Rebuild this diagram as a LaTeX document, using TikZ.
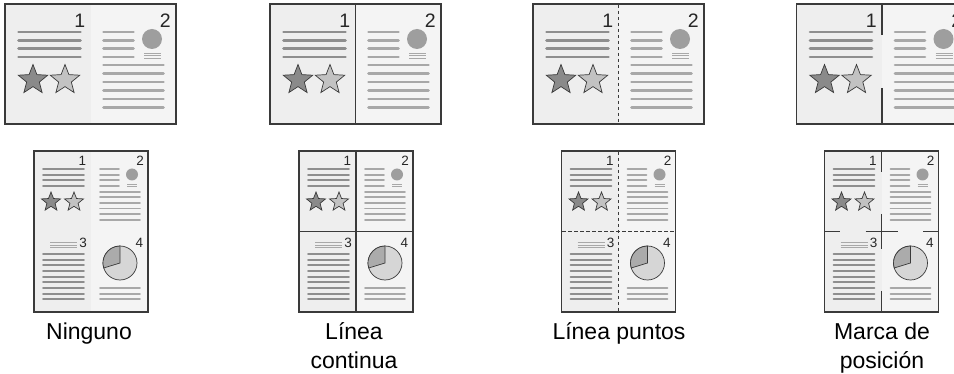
\documentclass[tikz,border=0pt]{standalone}
\usepackage{fontspec}
\setmainfont{Liberation Sans}
\definecolor{frame}{HTML}{3A3A3A}
\definecolor{pageL}{HTML}{EEEEEE}
\definecolor{pageR}{HTML}{F4F4F4}
\definecolor{lineL}{HTML}{8E8E8E}
\definecolor{lineR}{HTML}{A8A8A8}
\definecolor{dotc}{HTML}{9E9E9E}
\definecolor{starD}{HTML}{8A8A8A}
\definecolor{starL}{HTML}{C2C2C2}
\definecolor{pieL}{HTML}{D6D6D6}
\definecolor{pieD}{HTML}{ABABAB}
\tikzset{
  tlL/.style={draw=lineL, line width=2.6pt, line cap=round},
  tlR/.style={draw=lineR, line width=2.6pt, line cap=round},
  blL/.style={draw=lineL, line width=1.8pt, line cap=round},
  blR/.style={draw=lineR, line width=1.8pt, line cap=round},
  thinl/.style={draw=lineR, line width=0.7pt},
  frameline/.style={draw=frame, line width=1.6pt},
  divsolid/.style={draw=frame, line width=1.2pt},
  divdash/.style={draw=frame, line width=0.8pt, dash pattern=on 3.5pt off 2.5pt},
  digitT/.style={inner sep=0pt, anchor=base east, font=\fontsize{19.5}{22}\selectfont, text=black!85},
  digitB/.style={inner sep=0pt, anchor=base east, font=\fontsize{13.5}{15}\selectfont, text=black!85},
  lab/.style={inner sep=0pt, anchor=base, font=\fontsize{23}{28}\selectfont, text=black},
}
\newcommand\mystarshape[4]{%
  \begin{scope}[shift={(#1,#2)}, scale=#3]
    \filldraw[fill=#4, draw=frame, line width=0.7pt, line join=miter]
      (90:1pt) -- (126:0.43pt) -- (162:1pt) -- (198:0.43pt) -- (234:1pt)
      -- (270:0.43pt) -- (306:1pt) -- (342:0.43pt) -- (18:1pt) -- (54:0.43pt) -- cycle;
  \end{scope}}
\newcommand\topspread[2]{%
  \begin{scope}[shift={(#1,0)}]
    \fill[pageL] (-85.5,4) rectangle (0,124);
    \fill[pageR] (0,4) rectangle (85.5,124);
    \foreach \yy in {32,40.5,48.5,57} {\draw[tlL] (-72,\yy) -- (-10,\yy);}
    \mystarshape{-57.5}{80}{15.5}{starD}
    \mystarshape{-25.5}{80}{15.5}{starL}
    \foreach \yy in {32,40.5,48.5,57} {\draw[tlR] (13,\yy) -- (43,\yy);}
    \fill[dotc] (61.5,39) circle[radius=10pt];
    \foreach \yy in {53.3,55.8,58.3} {\draw[thinl] (53.5,\yy) -- (70.5,\yy);}
    \foreach \yy in {65,73.5,82,90.5,99,107.5} {\draw[tlR] (13,\yy) -- (73,\yy);}
    \node[digitT] (t1#2) at (-5,27.5) {1};
    \node[digitT] (t2#2) at (80.5,27.5) {2};
    \draw[frameline] (-85.5,4) rectangle (85.5,124);
  \end{scope}}
\newcommand\botsheet[2]{%
  \begin{scope}[shift={(#1,0)}]
    \fill[pageL] (-57,151) rectangle (0,312);
    \fill[pageR] (0,151) rectangle (57,312);
    % quadrant 1
    \foreach \yy in {169,174.7,180.4,186.1} {\draw[blL] (-48,\yy) -- (-7,\yy);}
    \mystarshape{-40}{202}{10}{starD}
    \mystarshape{-17}{202}{10}{starL}
    \node[digitB] (b1#2) at (-4.7,166) {1};
    % quadrant 2
    \foreach \yy in {169,174.7,180.4,186.1} {\draw[blR] (9,\yy) -- (28,\yy);}
    \fill[dotc] (41,174.5) circle[radius=6pt];
    \foreach \yy in {184,186.5} {\draw[thinl] (36,\yy) -- (46,\yy);}
    \foreach \k in {0,...,5} {\draw[blR] (9,191.7+5.6*\k) -- (49,191.7+5.6*\k);}
    \node[digitB] (b2#2) at (53,166) {2};
    % quadrant 3
    \foreach \yy in {242.7,245,247.3} {\draw[thinl] (-41,\yy) -- (-14,\yy);}
    \foreach \k in {0,...,8} {\draw[blL] (-48,254+5.67*\k) -- (-7,254+5.67*\k);}
    \node[digitB] (b3#2) at (-4,247.5) {3};
    % quadrant 4
    \begin{scope}[shift={(29,263)}]
      \filldraw[fill=pieL, draw=frame, line width=0.7pt] (0,0) circle[radius=17pt];
      \filldraw[fill=pieD, draw=frame, line width=0.7pt] (0,0) -- (90:17pt)
        arc[start angle=90, end angle=197, radius=17pt] -- cycle;
    \end{scope}
    \foreach \yy in {288,293.7,299.3} {\draw[blR] (9,\yy) -- (49,\yy);}
    \node[digitB] (b4#2) at (52.4,247.5) {4};
    \draw[frameline, line width=1.4pt] (-57,151) rectangle (57,312);
  \end{scope}}
\begin{document}
\begin{tikzpicture}[x=1pt, y=-1pt]
  \clip (0,0) rectangle (954,374);
  \fill[white] (0,0) rectangle (954,374);
  % panel 1: Ninguno
  \topspread{90.5}{a}
  \botsheet{91}{a}
  \node[lab] (lab1) at (89,340) {Ninguno};
  % panel 2: Linea continua
  \topspread{355.5}{b}
  \draw[divsolid] (355.5,4) -- (355.5,124);
  \botsheet{356}{b}
  \draw[divsolid] (356,151) -- (356,312);
  \draw[divsolid] (299,231.5) -- (413,231.5);
  \node[lab] (lab2a) at (354,340) {Línea};
  \node[lab] (lab2b) at (354,368) {continua};
  % panel 3: Linea puntos
  \topspread{618.5}{c}
  \draw[divdash] (618.5,5) -- (618.5,123);
  \botsheet{618.5}{c}
  \draw[divdash] (618.5,152) -- (618.5,311);
  \draw[divdash] (562,231.5) -- (675,231.5);
  \node[lab] (lab3) at (619,340) {Línea puntos};
  % panel 4: Marca de posicion
  \topspread{882}{d}
  \draw[divsolid] (882,4) -- (882,35);
  \draw[divsolid] (882,88) -- (882,124);
  \botsheet{881.5}{d}
  \draw[divsolid] (881.5,151) -- (881.5,172);
  \draw[divsolid] (881.5,291) -- (881.5,312);
  \draw[divsolid] (881.5,214) -- (881.5,249);
  \draw[divsolid] (824.5,231.5) -- (840,231.5);
  \draw[divsolid] (923,231.5) -- (938.5,231.5);
  \draw[divsolid] (865.5,231.5) -- (897.5,231.5);
  \node[lab] (lab4a) at (882,340) {Marca de};
  \node[lab] (lab4b) at (882,368) {posición};
\end{tikzpicture}
\end{document}
